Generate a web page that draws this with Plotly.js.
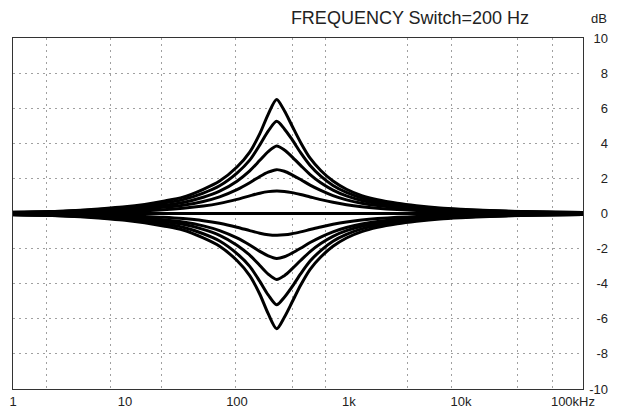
<!DOCTYPE html>
<html>
<head>
<meta charset="utf-8">
<script src="https://cdn.plot.ly/plotly-3.0.1.min.js"></script>
<style>html,body{margin:0;padding:0;background:#fff;}#chart{width:621px;height:415px;}</style>
</head>
<body>
<div id="chart"></div>
<script>
// Frequencies (Hz) at which the curves were read
const freq = [1, 2, 4, 7, 10, 15, 22, 33, 50, 70, 100, 130, 160, 190, 226, 265, 310, 370, 450, 560, 720, 950, 1300, 1800, 2700, 4000, 6500, 10000, 18000, 35000, 70000, 123000];

// Boost curves (dB)
const boost6 = [0.065, 0.100, 0.190, 0.300, 0.380, 0.520, 0.700, 0.930, 1.380, 1.850, 2.65, 3.50, 4.55, 5.65, 6.5, 5.85, 5.00, 4.05, 3.15, 2.45, 1.85, 1.38, 1.02, 0.78, 0.58, 0.44, 0.31, 0.24, 0.17, 0.11, 0.075, 0.055];
const boost5 = [0.066, 0.097, 0.170, 0.258, 0.323, 0.438, 0.589, 0.793, 1.165, 1.583, 2.305, 3.04, 3.91, 4.69, 5.25, 4.82, 4.22, 3.47, 2.74, 2.13, 1.60, 1.203, 0.886, 0.676, 0.503, 0.382, 0.272, 0.212, 0.154, 0.103, 0.073, 0.055];
const boost4 = [0.063, 0.089, 0.143, 0.209, 0.262, 0.349, 0.466, 0.629, 0.923, 1.271, 1.844, 2.43, 3.03, 3.53, 3.85, 3.62, 3.23, 2.74, 2.22, 1.751, 1.331, 1.003, 0.744, 0.569, 0.422, 0.323, 0.233, 0.184, 0.135, 0.094, 0.070, 0.055];
const boost3 = [0.059, 0.080, 0.116, 0.163, 0.203, 0.264, 0.349, 0.474, 0.687, 0.949, 1.358, 1.751, 2.109, 2.358, 2.5, 2.407, 2.204, 1.936, 1.616, 1.313, 1.018, 0.777, 0.586, 0.450, 0.335, 0.258, 0.190, 0.152, 0.113, 0.083, 0.063, 0.051];
const boost2 = [0.047, 0.061, 0.083, 0.109, 0.133, 0.169, 0.219, 0.298, 0.423, 0.576, 0.804, 1.006, 1.157, 1.247, 1.28, 1.256, 1.191, 1.082, 0.943, 0.790, 0.636, 0.501, 0.386, 0.301, 0.227, 0.177, 0.134, 0.108, 0.083, 0.063, 0.050, 0.041];
// Flat curve
const flat = [0, 0, 0, 0, 0, 0, 0, 0, 0, 0, 0, 0, 0, 0, 0, 0, 0, 0, 0, 0, 0, 0, 0, 0, 0, 0, 0, 0, 0, 0, 0, 0];
// Cut curves (dB)
const cut2 = [-0.046, -0.059, -0.080, -0.106, -0.129, -0.164, -0.212, -0.289, -0.410, -0.558, -0.779, -0.975, -1.121, -1.208, -1.24, -1.217, -1.154, -1.048, -0.914, -0.766, -0.616, -0.485, -0.374, -0.292, -0.220, -0.172, -0.130, -0.105, -0.080, -0.061, -0.048, -0.040];
const cut3 = [-0.060, -0.082, -0.119, -0.167, -0.208, -0.270, -0.357, -0.485, -0.703, -0.972, -1.391, -1.793, -2.160, -2.415, -2.56, -2.465, -2.257, -1.982, -1.655, -1.344, -1.042, -0.796, -0.600, -0.461, -0.343, -0.264, -0.195, -0.156, -0.116, -0.085, -0.065, -0.052];
const cut4 = [-0.062, -0.087, -0.140, -0.204, -0.256, -0.341, -0.455, -0.615, -0.902, -1.242, -1.802, -2.37, -2.96, -3.45, -3.76, -3.54, -3.16, -2.68, -2.17, -1.711, -1.300, -0.980, -0.727, -0.556, -0.412, -0.316, -0.228, -0.180, -0.132, -0.092, -0.068, -0.054];
const cut5 = [-0.065, -0.096, -0.168, -0.255, -0.320, -0.434, -0.583, -0.785, -1.153, -1.567, -2.282, -3.01, -3.87, -4.64, -5.2, -4.77, -4.18, -3.44, -2.71, -2.11, -1.58, -1.191, -0.877, -0.669, -0.498, -0.378, -0.269, -0.210, -0.152, -0.102, -0.072, -0.054];
const cut6 = [-0.066, -0.101, -0.192, -0.303, -0.384, -0.526, -0.708, -0.940, -1.395, -1.870, -2.68, -3.54, -4.60, -5.71, -6.57, -5.91, -5.06, -4.09, -3.18, -2.48, -1.87, -1.395, -1.031, -0.789, -0.586, -0.445, -0.313, -0.243, -0.172, -0.111, -0.076, -0.056];

// Axis labels
const xTickVals = [1, 10, 100, 1000, 10000, 100000];
const xTickText = ['1', '10', '100', '1k', '10k', '100kHz'];
const yTickVals = [-10, -8, -6, -4, -2, 0, 2, 4, 6, 8, 10];
const yTickText = ['-10', '-8', '-6', '-4', '-2', '0', '2', '4', '6', '8', '10'];
const xGridVals = [2, 7.4, 21, 98, 316, 620, 3300, 8200, 32000, 66000];
const yGridVals = [-8, -6, -4, -2, 2, 4, 6, 8];

const curves = [boost6, boost5, boost4, boost3, boost2, cut2, cut3, cut4, cut5, cut6];
const traces = curves.map(function (ys) {
  return {
    x: freq, y: ys, type: 'scatter', mode: 'lines',
    line: {color: '#000', width: 3, shape: 'spline', smoothing: 0.8},
    hoverinfo: 'skip', showlegend: false
  };
});
// flat (0 dB) curve, drawn on both overlay axes so that they are rendered
traces.push({
  x: freq, y: flat, type: 'scatter', mode: 'lines', yaxis: 'y2',
  line: {color: '#000', width: 3}, hoverinfo: 'skip', showlegend: false
});
traces.push({
  x: freq, y: flat, type: 'scatter', mode: 'lines', xaxis: 'x2',
  line: {color: '#000', width: 3}, hoverinfo: 'skip', showlegend: false
});

const FONT = 'Liberation Sans, Arial, Helvetica, sans-serif';
const xr = [0, Math.log10(123000)];
const dom = [0, 570 / 598];

const layout = {
  width: 621, height: 415,
  margin: {l: 13, r: 10, t: 38, b: 26, pad: 0},
  paper_bgcolor: '#fff', plot_bgcolor: '#fff',
  font: {family: FONT, size: 13, color: '#222'},
  showlegend: false,
  title: {
    text: 'FREQUENCY Switch=200 Hz',
    font: {family: FONT, size: 18, color: '#222'},
    xref: 'container', yref: 'container',
    x: 410 / 621, xanchor: 'center', y: 1 - 18 / 415, yanchor: 'middle'
  },
  xaxis: {
    type: 'log', range: xr, domain: dom,
    tickmode: 'array', tickvals: xTickVals, ticktext: xTickText,
    ticks: '', showgrid: false, zeroline: false,
    showline: true, mirror: true, linecolor: '#333', linewidth: 1.3,
    tickfont: {family: FONT, size: 13, color: '#222'}
  },
  xaxis2: {
    type: 'log', range: xr, overlaying: 'x', anchor: 'y',
    tickmode: 'array', tickvals: xGridVals,
    showticklabels: false, ticks: '', showline: false, zeroline: false,
    showgrid: true, gridcolor: '#a0a0a0', gridwidth: 1, griddash: '2px,4px'
  },
  yaxis: {
    range: [-10, 10], side: 'right', anchor: 'x',
    tickmode: 'array', tickvals: yGridVals,
    showticklabels: false, ticks: '',
    showgrid: true, gridcolor: '#a0a0a0', gridwidth: 1, griddash: '2px,4px',
    zeroline: false, showline: true, mirror: true, linecolor: '#333', linewidth: 1.3
  },
  yaxis2: {
    range: [-10, 10], overlaying: 'y', anchor: 'free', side: 'left',
    position: (608 - 13) / 598,
    tickmode: 'array', tickvals: yTickVals, ticktext: yTickText,
    ticks: '', showline: false, showgrid: false, zeroline: false,
    tickfont: {family: FONT, size: 13, color: '#222'}
  },
  annotations: [{
    text: 'dB', xref: 'paper', yref: 'paper',
    x: (599 - 13) / 598, y: (389 - 18) / 351, xanchor: 'center', yanchor: 'middle',
    showarrow: false, font: {family: FONT, size: 13, color: '#222'}
  }]
};

Plotly.newPlot('chart', traces, layout, {staticPlot: true, displayModeBar: false});
</script>
</body>
</html>
